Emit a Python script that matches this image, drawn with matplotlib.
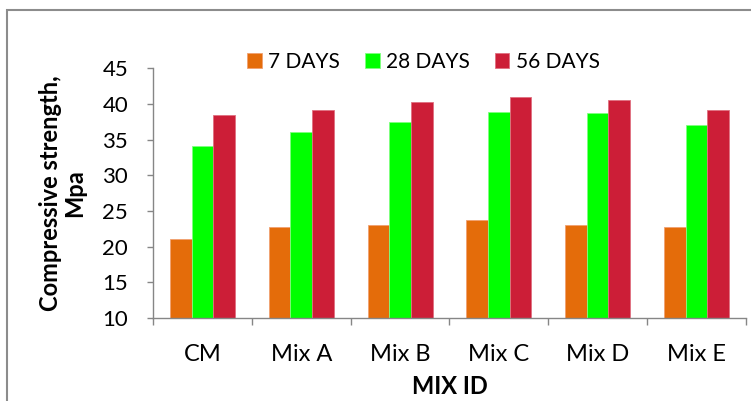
import numpy as np
import matplotlib.pyplot as plt
from matplotlib.patches import Rectangle

# values
mixes = ['CM', 'Mix A', 'Mix B', 'Mix C', 'Mix D', 'Mix E']
days_7 = [21.0, 22.8, 23.0, 23.7, 23.0, 22.8]
days_28 = [34.1, 36.1, 37.5, 38.9, 38.7, 37.1]
days_56 = [38.5, 39.2, 40.2, 41.0, 40.6, 39.2]
series_labels = ['7 DAYS', '28 DAYS', '56 DAYS']
colors = ['#E46C0A', '#00FF00', '#CC1E37']
edges = ['#F0A070', '#80FF80', '#E07080']

plt.rcParams['font.family'] = ['Lato', 'DejaVu Sans']

fig = plt.figure(figsize=(7.51, 4.01), dpi=100)
ax = fig.add_axes([0.204, 0.207, 0.789, 0.623])

# outer chart frame (only top/left visible in the crop)
fig.patches.append(Rectangle((7 / 751, -0.2), 1.5, (391 / 401) + 0.2,
                             transform=fig.transFigure, fill=False,
                             edgecolor='#8C8C8C', lw=1.5))

x = np.arange(len(mixes))
w = 0.22
for i, vals in enumerate([days_7, days_28, days_56]):
    ax.bar(x + (i - 1) * w, np.array(vals) - 10, bottom=10, width=w,
           color=colors[i], edgecolor=edges[i], linewidth=0.6,
           label=series_labels[i])

ax.set_ylim(10, 45)
ax.set_yticks(np.arange(10, 46, 5))
ax.set_xlim(-0.5, len(mixes) - 0.5)
ax.set_xticks(np.arange(-0.5, len(mixes), 1.0))
ax.set_xticklabels([])
ax.set_xticks(x, minor=True)
ax.set_xticklabels(mixes, minor=True)
ax.tick_params(axis='x', which='minor', length=0, pad=19, labelsize=17)
ax.tick_params(axis='x', which='major', length=5, color='#868686', width=1)
ax.tick_params(axis='y', length=4, color='#868686', width=1, labelsize=16,
               pad=14)

for s in ['top', 'right']:
    ax.spines[s].set_visible(False)
for s in ['left', 'bottom']:
    ax.spines[s].set_color('#868686')
    ax.spines[s].set_linewidth(1)

ax.set_xlabel('MIX ID', fontsize=17, fontweight='bold', labelpad=7)
ax.set_ylabel('Compressive strength,\nMpa', fontsize=17, fontweight='bold',
              labelpad=12, linespacing=1.05)

ax.legend(loc='center', bbox_to_anchor=(0.456, 1.025), ncol=3, frameon=False,
          fontsize=15, handlelength=0.7, handleheight=0.7,
          handletextpad=0.3, columnspacing=1.2)

fig.savefig('out.png', dpi=100)
